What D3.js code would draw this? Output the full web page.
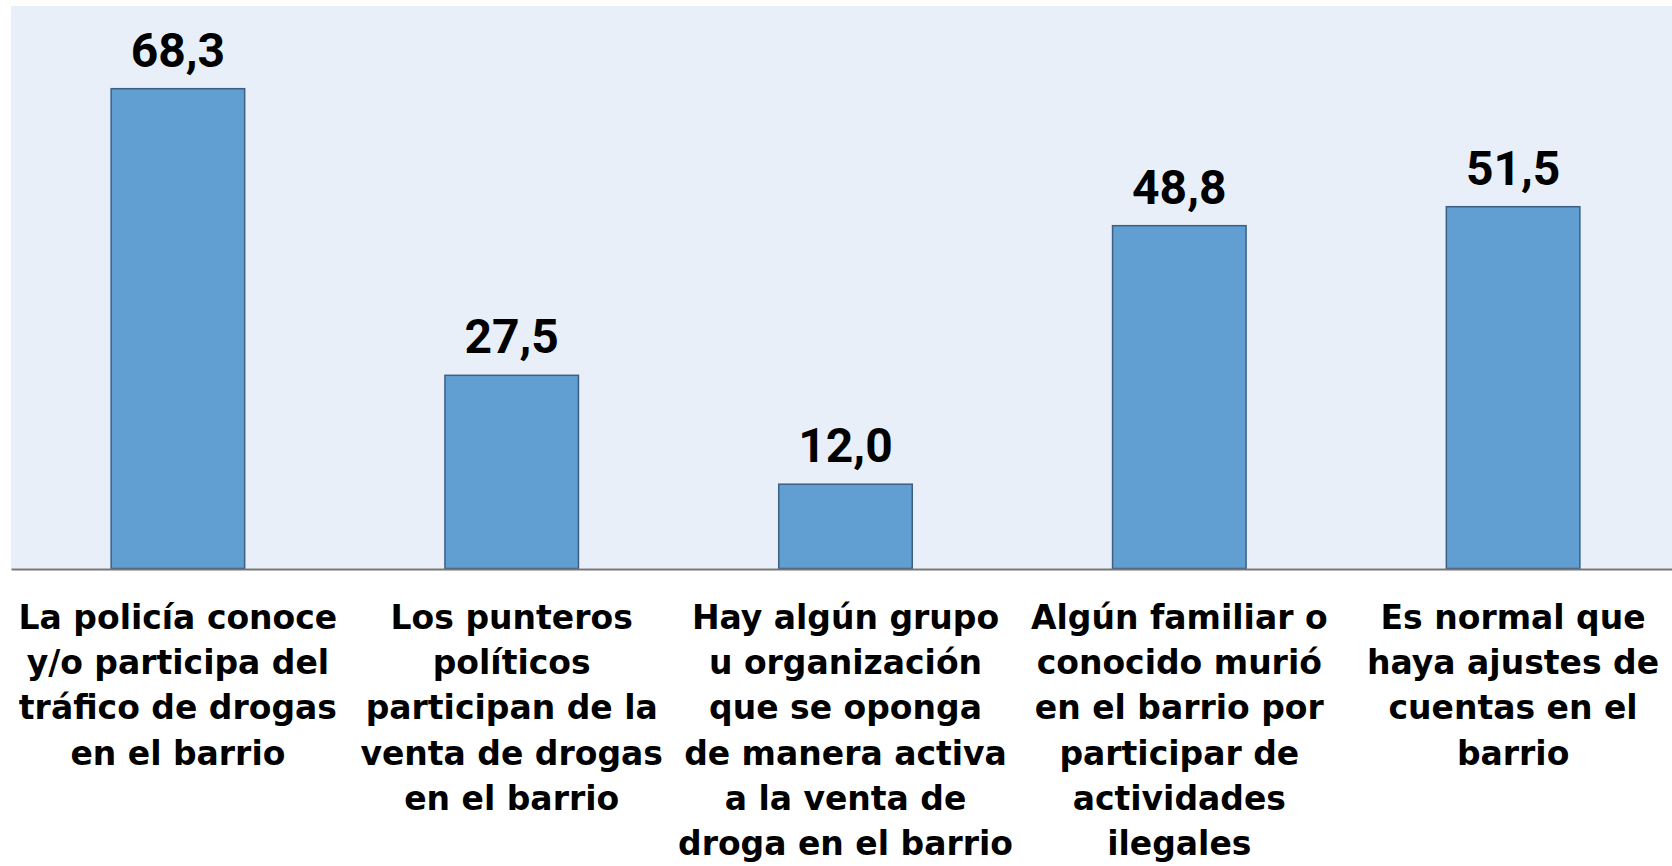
<!DOCTYPE html>
<html>
<head>
<meta charset="utf-8">
<script src="https://cdn.jsdelivr.net/npm/d3@7"></script>
<style>
  html, body { margin: 0; padding: 0; background: #ffffff; }
  svg { display: block; }
</style>
</head>
<body>
<svg id="chart" width="1672" height="866"></svg>
<script>
// Survey items (each label pre-split into its display lines)
const categories = [
  ["La policía conoce", "y/o participa del", "tráfico de drogas", "en el barrio"],
  ["Los punteros", "políticos", "participan de la", "venta de drogas", "en el barrio"],
  ["Hay algún grupo", "u organización", "que se oponga", "de manera activa", "a la venta de", "droga en el barrio"],
  ["Algún familiar o", "conocido murió", "en el barrio por", "participar de", "actividades", "ilegales"],
  ["Es normal que", "haya ajustes de", "cuentas en el", "barrio"]
];

// Percentage of respondents agreeing with each item
const values = [68.3, 27.5, 12.0, 48.8, 51.5];

const yDomain = [0, 80];

const svg = d3.select("#chart");
const W = 1672, H = 866;

const plot = { left: 11, top: 6.5, right: 1680, bottom: 568.5 };

const keys = categories.map((c, i) => i);

const x = d3.scaleBand()
  .domain(keys)
  .range([plot.left, plot.right])
  .paddingInner(0.6)
  .paddingOuter(0.3);

const y = d3.scaleLinear()
  .domain(yDomain)
  .range([plot.bottom, plot.top]);

const fmt = v => d3.format(".1f")(v).replace(".", ",");

// Plot area background
svg.append("rect")
  .attr("x", plot.left)
  .attr("y", plot.top - 0.5)
  .attr("width", W - plot.left)
  .attr("height", plot.bottom - plot.top + 0.5)
  .attr("fill", "#e8eff8");

// Bars
svg.append("g")
  .selectAll("rect")
  .data(values)
  .join("rect")
  .attr("x", (d, i) => x(i))
  .attr("y", d => y(d))
  .attr("width", x.bandwidth())
  .attr("height", d => y(0) - y(d))
  .attr("fill", "#619ed2")
  .attr("stroke", "#3c5f86")
  .attr("stroke-width", 1.5);

// Baseline axis
const axis = svg.append("g")
  .attr("transform", `translate(0,${y(0) + 0.5})`)
  .call(d3.axisBottom(x).tickSize(0).tickFormat(""));
axis.select(".domain")
  .attr("stroke", "#767676")
  .attr("stroke-width", 2);

// Value labels
svg.append("g")
  .selectAll("text")
  .data(values)
  .join("text")
  .attr("x", (d, i) => x(i) + x.bandwidth() / 2)
  .attr("y", d => y(d) - 22)
  .attr("text-anchor", "middle")
  .attr("font-family", "Roboto, 'Liberation Sans', sans-serif")
  .attr("font-weight", 700)
  .attr("font-size", 48)
  .attr("fill", "#000")
  .text(d => fmt(d));

// Category labels
const lineGap = 45.2;
const firstBaseline = 629;
const labels = svg.append("g")
  .selectAll("text")
  .data(categories)
  .join("text")
  .attr("text-anchor", "middle")
  .attr("font-family", "'DejaVu Sans', sans-serif")
  .attr("font-weight", 700)
  .attr("font-size", 33)
  .attr("fill", "#000");

labels.each(function(lines, i) {
  const cx = x(i) + x.bandwidth() / 2;
  d3.select(this).selectAll("tspan")
    .data(lines)
    .join("tspan")
    .attr("x", cx)
    .attr("y", (l, j) => firstBaseline + j * lineGap)
    .text(l => l);
});
</script>
</body>
</html>
